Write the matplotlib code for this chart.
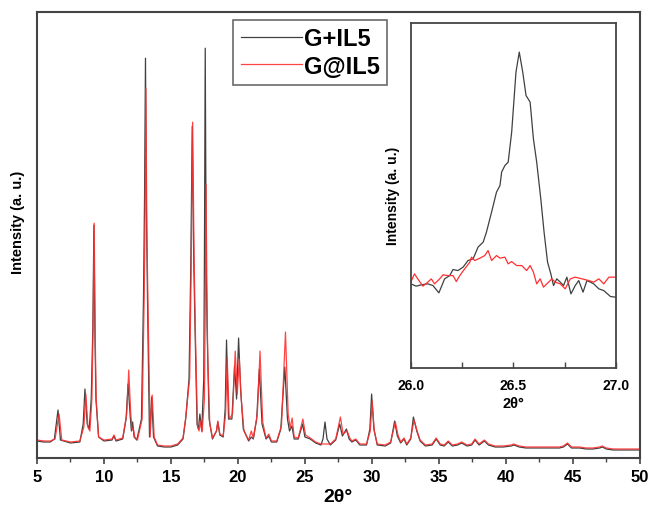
import numpy as np
import matplotlib
matplotlib.use("Agg")
from matplotlib import pyplot as plt

plt.rcParams['font.family'] = ['Liberation Sans', 'DejaVu Sans']
plt.rcParams['font.weight'] = 'bold'

# main pattern, G+IL5 (2theta, intensity a.u.)
tt_black = [5.0, 5.5, 6.0, 6.3, 6.57, 6.75, 7.5, 8.2, 8.45, 8.58, 8.75, 8.9, 9.05, 9.17, 9.25, 9.33, 9.4, 9.6,
            10.0, 10.6, 10.75, 10.9, 11.4, 11.65, 11.8, 11.95, 12.05, 12.14, 12.25, 12.45, 12.8, 12.95,
            13.03, 13.1, 13.17, 13.25, 13.4, 13.56, 13.7, 14.0, 14.5, 15.0, 15.5, 15.9, 16.1, 16.35,
            16.48, 16.59, 16.7, 16.8,
            16.95, 17.05, 17.16, 17.3, 17.45, 17.5, 17.56, 17.63, 17.7, 17.85, 18.1, 18.4, 18.5, 18.65,
            18.9, 19.05,
            19.15, 19.3, 19.55, 19.75, 19.9, 20.05, 20.2, 20.4, 20.8, 21.0, 21.15, 21.4, 21.6, 21.8,
            22.1, 22.3, 22.5, 22.9, 23.2, 23.5, 23.7, 23.85, 24.03, 24.2, 24.5, 24.83, 25.0, 25.4,
            25.8, 26.2, 26.35, 26.5, 26.65, 26.9, 27.3, 27.6, 27.8, 28.1, 28.3, 28.5, 28.8, 29.1,
            29.6, 29.85, 29.98, 30.15, 30.4, 31.0, 31.4, 31.7, 31.9, 32.15, 32.4, 32.6, 32.9, 33.1,
            33.35, 33.6, 34.0, 34.5, 34.8, 35.1, 35.4, 35.7, 36.0, 36.4, 36.7, 37.1, 37.45, 37.7,
            38.0, 38.4, 38.7, 39.2, 39.8, 40.4, 40.6, 41.0, 41.5, 42.0, 42.5, 43.0, 43.5, 44.0,
            44.3, 44.6, 44.9, 45.5, 46.0, 46.5, 47.0, 47.2, 47.5, 48.0, 48.5, 49.0, 49.5, 50.0]
int_black = [17, 16, 16, 19, 48, 18, 15, 16, 34, 69, 34, 29, 59, 130, 233, 120, 59, 21,
             17, 18, 22, 17, 19, 39, 74, 44, 27, 36, 21, 18, 39, 159,
             260, 400, 250, 159, 21, 61, 21, 12, 11, 11, 13, 19, 39, 79,
             190, 332, 200, 129,
             34, 29, 44, 27, 79, 200, 410, 200, 129, 39, 19, 27, 36, 23,
             21, 49,
             118, 39, 39, 92, 59, 120, 69, 29, 17, 21, 19, 39, 89, 34,
             19, 22, 16, 16, 29, 91, 39, 27, 32, 19, 19, 34, 21, 19,
             15, 13, 19, 36, 19, 13, 18, 34, 22, 29, 19, 16, 18, 13,
             13, 29, 64, 29, 13, 12, 15, 37, 22, 15, 19, 13, 19, 41,
             27, 17, 12, 13, 19, 13, 12, 16, 12, 13, 15, 12, 13, 18,
             13, 17, 13, 11, 11, 12, 13, 11, 10, 10, 10, 10, 10, 10,
             11, 14, 10, 10, 9, 9, 10, 11, 9, 8, 8, 8, 8, 8]

# main pattern, G@IL5
tt_red = [5.0, 5.5, 6.0, 6.35, 6.65, 6.85, 7.5, 8.2, 8.5, 8.65, 8.8, 8.95, 9.1, 9.19, 9.27, 9.35, 9.42, 9.6,
          10.0, 10.6, 10.75, 10.9, 11.4, 11.7, 11.85, 12.0, 12.1, 12.2, 12.3, 12.5, 12.85, 13.0,
          13.07, 13.13, 13.2, 13.28, 13.45, 13.6, 13.75, 14.0, 14.5, 15.0, 15.5, 15.9, 16.1, 16.4,
          16.51, 16.62, 16.73, 16.82,
          16.98, 17.1, 17.2, 17.33, 17.5, 17.56, 17.62, 17.69, 17.75, 17.9, 18.1, 18.4, 18.5, 18.65,
          18.9, 19.08,
          19.2, 19.35, 19.6, 19.8, 19.95, 20.1, 20.25, 20.45, 20.8, 21.0, 21.15, 21.45, 21.65, 21.85,
          22.1, 22.3, 22.5, 22.9, 23.25, 23.55, 23.75, 23.9, 24.05, 24.2, 24.5, 24.85, 25.05, 25.4,
          25.8, 26.2, 26.5, 26.9, 27.3, 27.65, 27.85, 28.15, 28.35, 28.5, 28.8, 29.1,
          29.6, 29.88, 30.02, 30.18, 30.4, 31.0, 31.4, 31.75, 31.95, 32.15, 32.4, 32.6, 32.9, 33.15,
          33.4, 33.6, 34.0, 34.5, 34.8, 35.1, 35.4, 35.7, 36.0, 36.4, 36.7, 37.1, 37.45, 37.7,
          38.0, 38.4, 38.7, 39.2, 39.8, 40.4, 40.6, 41.0, 41.5, 42.0, 42.5, 43.0, 43.5, 44.0,
          44.3, 44.6, 44.9, 45.5, 46.0, 46.5, 47.0, 47.2, 47.5, 48.0, 48.5, 49.0, 49.5, 50.0]
int_red = [18, 17, 17, 19, 44, 18, 16, 17, 31, 64, 31, 27, 59, 130, 235, 120, 59, 21,
           18, 19, 23, 18, 20, 44, 88, 44, 28, 29, 21, 18, 39, 159,
           240, 370, 230, 159, 21, 63, 21, 13, 12, 12, 14, 20, 40, 80,
           190, 336, 200, 129,
           32, 27, 37, 26, 59, 150, 274, 160, 99, 34, 20, 27, 37, 24,
           22, 44,
           100, 39, 44, 107, 64, 99, 59, 27, 18, 27, 20, 44, 107, 36,
           20, 24, 17, 17, 32, 126, 44, 30, 40, 21, 20, 39, 23, 20,
           16, 14, 14, 14, 19, 41, 24, 27, 20, 17, 19, 14,
           14, 27, 57, 27, 14, 13, 16, 36, 23, 16, 20, 14, 20, 38,
           26, 18, 13, 14, 20, 14, 13, 17, 13, 14, 16, 13, 14, 19,
           14, 18, 14, 12, 12, 13, 14, 12, 11, 11, 11, 11, 11, 11,
           12, 15, 11, 11, 10, 10, 11, 12, 10, 9, 9, 9, 9, 9]

# inset, 26-27 deg
tt_in_black = [26.000, 26.026, 26.051, 26.083, 26.108, 26.137, 26.165, 26.190, 26.206, 26.230,
               26.255, 26.279, 26.304, 26.328, 26.353, 26.369, 26.394, 26.418, 26.435, 26.443,
               26.459, 26.475, 26.492, 26.513, 26.529, 26.546, 26.562, 26.582, 26.598, 26.614,
               26.634, 26.650, 26.667, 26.683, 26.696, 26.712, 26.729, 26.745, 26.761, 26.781,
               26.802, 26.819, 26.840, 26.859, 26.876, 26.892, 26.917, 26.941, 26.974, 27.000]
int_in_black = [84, 81.7, 83, 84, 82.3, 75, 89, 92.3, 98.3, 97.3,
                100.7, 107.3, 109, 120.7, 125.7, 135.7, 155.7, 175.7, 182.3, 195.7,
                202.3, 205.7, 235.7, 295.7, 315.7, 295.7, 272.3, 265.7, 229, 205.7,
                169, 135.7, 105.7, 94, 82.3, 89, 85.7, 82.3, 90.7, 74,
                82.3, 87.3, 75.7, 87.3, 85.7, 84, 79, 77.3, 71.3, 70.7]
tt_in_red = [26.000, 26.018, 26.034, 26.059, 26.083, 26.100, 26.116, 26.141, 26.157, 26.181,
             26.206, 26.222, 26.239, 26.263, 26.288, 26.296, 26.312, 26.337, 26.361, 26.377,
             26.394, 26.418, 26.435, 26.459, 26.475, 26.492, 26.516, 26.541, 26.565, 26.582,
             26.598, 26.614, 26.631, 26.647, 26.672, 26.688, 26.704, 26.729, 26.753, 26.778,
             26.802, 26.835, 26.868, 26.892, 26.917, 26.941, 26.966, 27.000]
int_in_red = [85.7, 94, 89, 81.7, 85.7, 89, 84, 89, 93, 92.3,
              92.3, 86.3, 92.3, 99, 105.7, 110.7, 107.3, 109.7, 112.3, 117.3,
              107.3, 112.3, 109.7, 110.7, 104, 106.3, 102.3, 102.3, 97.3, 102.3,
              95.7, 84, 89, 80.7, 85.7, 89, 85.7, 84, 79, 89,
              90.7, 89, 87.3, 85.7, 89, 84, 90.7, 90.7]

black_c = '#404040'
red_c = '#ff3030'
spine_c = '#444444'

fig = plt.figure(figsize=(6.51, 5.06), dpi=100)
ax = fig.add_axes([0.0568, 0.0929, 0.926, 0.881])
ax.plot(tt_black, int_black, color=black_c, lw=0.9, label='G+IL5')
ax.plot(tt_red, int_red, color=red_c, lw=0.9, alpha=0.9, label='G@IL5')
ax.set_xlim(5, 50)
ax.set_ylim(0, 446)
ax.set_xticks(np.arange(5, 51, 5))
ax.set_xticks(np.arange(7.5, 50, 5), minor=True)
ax.set_yticks([])
ax.tick_params(axis='x', which='major', direction='out', length=4, width=1.2,
               labelsize=12, pad=4, color=spine_c)
ax.tick_params(axis='x', which='minor', direction='out', length=3, width=1, color=spine_c)
for s in ax.spines.values():
    s.set_color(spine_c)
    s.set_linewidth(1.5)
ax.set_xlabel('2θ°', fontsize=14, fontweight='bold', labelpad=2.5)
ax.set_ylabel('Intensity (a. u.)', fontsize=10.5, fontweight='bold')
ax.yaxis.set_label_coords(-0.02, 0.53)

leg = ax.legend(loc='upper right', bbox_to_anchor=(0.581, 0.983), fancybox=False,
                edgecolor=spine_c, fontsize=17, handlelength=2.6, handletextpad=0.1,
                borderpad=0.3, labelspacing=0.2, borderaxespad=0)
leg.get_frame().set_linewidth(1.2)
for t in leg.get_texts():
    t.set_fontweight('bold')

ins = fig.add_axes([0.631, 0.271, 0.315, 0.682])
ins.plot(tt_in_black, int_in_black, color=black_c, lw=0.9)
ins.plot(tt_in_red, int_in_red, color=red_c, lw=0.9)
ins.set_xlim(26.0, 27.0)
ins.set_ylim(0, 345)
ins.set_xticks([26.0, 26.5, 27.0])
ins.set_xticks([26.25, 26.75], minor=True)
ins.set_yticks([])
ins.tick_params(axis='x', which='both', direction='in', length=4, width=1, labelsize=10,
                color=spine_c, pad=7)
for s in ins.spines.values():
    s.set_color(spine_c)
    s.set_linewidth(1.3)
ins.set_xlabel('2θ°', fontsize=10.5, fontweight='bold', labelpad=3)
ins.set_ylabel('Intensity (a. u.)', fontsize=10, fontweight='bold', labelpad=8)

fig.savefig('out.png', dpi=100)
